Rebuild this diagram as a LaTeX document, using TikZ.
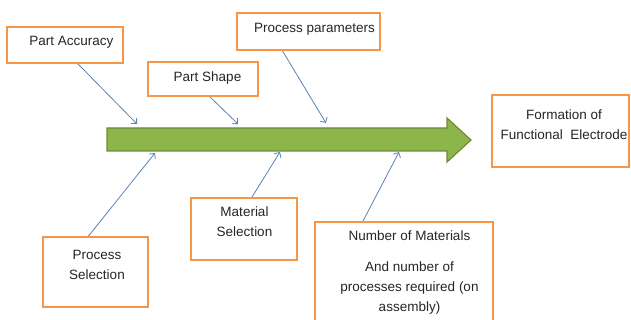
\documentclass[tikz,border=0pt]{standalone}
\usepackage{fontspec}
\setmainfont{Liberation Sans}
\usepackage{tikz}
\usetikzlibrary{calc,positioning,arrows.meta}
\definecolor{boxorange}{HTML}{F79646}
\definecolor{shaftgreen}{HTML}{8DB64A}
\definecolor{shaftedge}{HTML}{6E8C3A}
\definecolor{linkblue}{HTML}{5B82B5}
\tikzset{
  % Every factor sits in the same orange-framed box; only the text differs.
  factor/.style = {draw=boxorange, line width=1.9pt, fill=white,
                   inner sep=0pt},
  ftext/.style  = {font=\fontsize{13.5}{20}\selectfont, align=center,
                   inner sep=0pt, text=black!85},
  link/.style   = {->, >={Straight Barb[length=4pt, width=8pt]},
                   linkblue, line width=0.8pt},
}

\begin{document}
\begin{tikzpicture}[x=1pt, y=-1pt]
    \useasboundingbox (0,0) rectangle (631,320);
    \clip (0,0) rectangle (631,320);

    % main spine
    \draw[shaftedge, fill=shaftgreen, line width=1.2pt]
        (107,128) -- (447,128) -- (447,118) -- (471,140) -- (447,162)
        -- (447,151) -- (107,151) -- cycle;

    % boxes
    \node[factor, minimum width=116pt, minimum height=36pt] (acc)   at (65,45) {};
    \node[factor, minimum width=110pt, minimum height=34pt] (shape) at (203,79) {};
    \node[factor, minimum width=143pt, minimum height=37pt] (param) at (308.5,31.5) {};
    \node[factor, minimum width=137pt, minimum height=72pt] (goal)  at (560.5,131) {};
    \node[factor, minimum width=105pt, minimum height=70pt] (psel)  at (95.5,272) {};
    \node[factor, minimum width=106pt, minimum height=62pt] (msel)  at (244,229) {};
    \node[factor, minimum width=178pt, minimum height=116pt] (nmat) at (404,280) {};

    % texts
    \node[ftext] (acctxt)   at (71.5,42)  {Part Accuracy};
    \node[ftext] (shapetxt) at (207.5,78) {Part Shape};
    \node[ftext] (paramtxt) at (314.5,29) {Process parameters};
    \node[ftext] (goaltxt)  at (564,125)  {Formation of\\Functional\ \ Electrode};
    \node[ftext] (pseltxt)  at (97,265)   {Process\\Selection};
    \node[ftext] (mseltxt)  at (244.5,222) {Material\\Selection};
    \node[ftext, anchor=north] (nmattxt) at (409.5,231)
        {Number of Materials\\[11pt]And number of\\processes required (on\\assembly)};

    % arrow ends on the spine
    \coordinate (accE)   at (137,124);
    \coordinate (shapeE) at (238,124);
    \coordinate (paramE) at (326,123);
    \coordinate (pselE)  at (155,153);
    \coordinate (mselE)  at (280,152);
    \coordinate (nmatE)  at (399,152);

    \draw[link] (acc.south)   ++(13,0)  coordinate (accS)   -- (accE);
    \draw[link] (shape.south) ++(7,0)   coordinate (shapeS) -- (shapeE);
    \draw[link] (param.south) ++(-26,0) coordinate (paramS) -- (paramE);
    \draw[link] (psel.north)  ++(-7,0)  coordinate (pselS)  -- (pselE);
    \draw[link] (msel.north)  ++(8,0)   coordinate (mselS)  -- (mselE);
    \draw[link] (nmat.north)  ++(-41,0) coordinate (nmatS)  -- (nmatE);
\end{tikzpicture}
\end{document}
